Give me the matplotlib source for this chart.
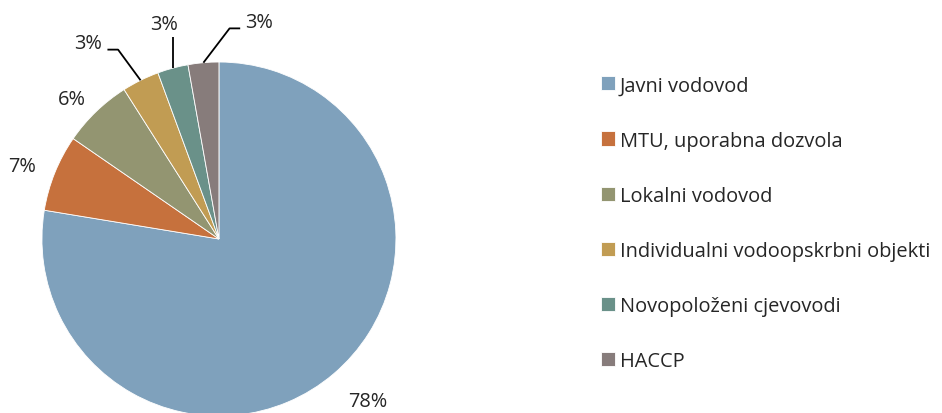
import numpy as np
import matplotlib
matplotlib.use("Agg")
import matplotlib.pyplot as plt

# ---------------------------------------------------------------
# DATA
# ---------------------------------------------------------------
categories = ['Javni vodovod', 'MTU, uporabna dozvola', 'Lokalni vodovod',
              'Individualni vodoopskrbni objekti', 'Novopoloženi cjevovodi', 'HACCP']
shares = [77.6, 7.0, 6.4, 3.4, 2.8, 2.8]
colors = ['#7FA1BC', '#C6713D', '#939571', '#C19C53', '#6A9189', '#877C7B']

plt.rcParams['font.family'] = ['Open Sans', 'DejaVu Sans']
text_color = '#262626'
fs = 14.4

# ---------------------------------------------------------------
# PLOT
# ---------------------------------------------------------------
fig = plt.figure(figsize=(9.42, 4.14), dpi=100)
ax = fig.add_axes([0, 0, 1, 1])
ax.axis('off')

wedges, _ = ax.pie(shares, colors=colors, startangle=90, counterclock=False,
                   radius=1.0, center=(0, 0),
                   wedgeprops=dict(edgecolor='white', linewidth=0.6))
ax.set_xlim(-1.237, 4.085)
ax.set_ylim(-0.983, 1.356)
ax.set_aspect('auto')

# labels: big ones outside along the slice middle, small ones on leader lines
for i, w in enumerate(wedges):
    mid = np.deg2rad((w.theta1 + w.theta2) / 2)
    txt = f'{round(shares[i]):.0f}%'
    ex, ey = np.cos(mid), np.sin(mid)
    if i == 0:
        ax.text(1.3 * ex, 1.2 * ey, txt, ha='center', va='center', fontsize=fs, color=text_color)
    elif i in (1, 2):
        ax.text(1.2 * ex, 1.1 * ey, txt, ha='center', va='center', fontsize=fs, color=text_color)
    elif i == 3:
        px, py = [ex, -0.57, -0.63], [ey, 1.07, 1.07]
        ax.plot(px, py, color='black', lw=1.3, solid_capstyle='butt')
        ax.text(-0.66, 1.11, txt, ha='right', va='center', fontsize=fs, color=text_color)
    elif i == 4:
        ax.plot([ex, ex], [ey, 1.14], color='black', lw=1.3, solid_capstyle='butt')
        ax.text(ex + 0.03, 1.215, txt, ha='right', va='center', fontsize=fs, color=text_color)
    else:
        px, py = [ex, 0.06, 0.12], [ey, 1.19, 1.19]
        ax.plot(px, py, color='black', lw=1.3, solid_capstyle='butt')
        ax.text(0.15, 1.225, txt, ha='left', va='center', fontsize=fs, color=text_color)

leg = fig.legend(wedges, categories, loc='upper left', bbox_to_anchor=(0.629, 0.835),
                 frameon=False, fontsize=fs, handlelength=0.72, handleheight=0.72,
                 handletextpad=0.25, labelspacing=1.76, borderaxespad=0)
for t in leg.get_texts():
    t.set_color(text_color)

plt.savefig('out.png', dpi=100)
plt.close()
